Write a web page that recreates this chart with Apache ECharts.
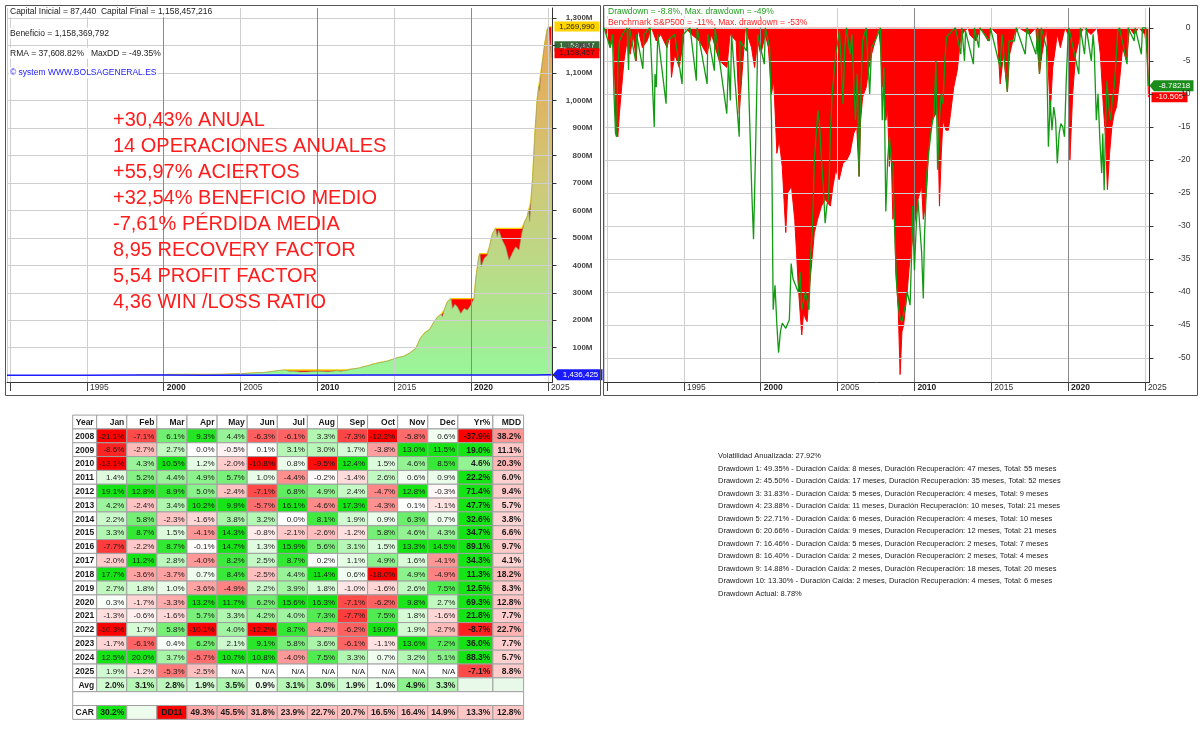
<!DOCTYPE html>
<html><head><meta charset="utf-8">
<script src="https://cdn.jsdelivr.net/npm/echarts@6/dist/echarts.min.js"></script>
<style>html,body{margin:0;padding:0;background:#fff}#c{width:1200px;height:738px}</style>
</head><body><div id="c"></div><script>
// ---------------- DATA ----------------
// Equity curve of the system (millions), [year, value]
const EQUITY = [[1998.2,0.087],[1998.5,0.12],[1999.0,0.3],[1999.5,0.6],[2000.0,1.5],[2000.3,2.6],[2000.8,1.6],[2001.2,1.3],[2002.0,1.6],[2002.7,1.5],[2003.3,2.7],[2004.0,3.5],[2005.0,5.5],[2006.0,8.5],[2006.5,9.5],[2007.0,13],[2007.5,17],[2007.9,19],[2008.15,14],[2008.5,14.5],[2008.9,11.5],[2009.3,11.8],[2009.7,13.5],[2010.0,14.1],[2010.45,13],[2010.7,12.5],[2011.0,14.7],[2011.3,16],[2011.5,14],[2011.9,17.5],[2012.2,22],[2012.5,24],[2012.8,27],[2013.0,30.8],[2013.3,34],[2013.6,40],[2013.8,42],[2014.0,45.5],[2014.3,48],[2014.6,52],[2014.9,58],[2015.0,60],[2015.3,65],[2015.6,68],[2015.8,74],[2016.0,80],[2016.05,76],[2016.1,79],[2016.4,97],[2016.7,134],[2016.85,145],[2017.0,155],[2017.3,166],[2017.6,194],[2017.8,210],[2018.05,222],[2018.14,213],[2018.25,237],[2018.46,267],[2018.7,279],[2018.79,243],[2018.95,258],[2019.11,249],[2019.33,225],[2019.55,243],[2019.76,237],[2019.98,255],[2020.2,280],[2020.3,346],[2020.5,431],[2020.58,443],[2020.65,395],[2020.85,425],[2021.05,437],[2021.2,468],[2021.4,516],[2021.6,535],[2021.7,504],[2021.8,528],[2022.03,492],[2022.25,468],[2022.47,419],[2022.68,444],[2022.9,468],[2023.12,456],[2023.3,516],[2023.4,540],[2023.5,560],[2023.65,577],[2023.75,601],[2023.82,559],[2023.9,638],[2024.0,711],[2024.1,820],[2024.15,875],[2024.2,917],[2024.3,1002],[2024.4,1051],[2024.45,1035],[2024.6,1124],[2024.8,1209],[2024.95,1258],[2025.05,1269.99],[2025.15,1200],[2025.23,1158.457]];
// Benchmark S&P500 buy & hold (millions)
const BENCH = [[1989.8,0.087],[1990.6,0.074],[1992,0.1],[1995,0.11],[1998,0.25],[2000,0.35],[2002.7,0.19],[2007.7,0.37],[2009.1,0.18],[2013.3,0.37],[2018,0.67],[2020.2,0.7],[2021.9,1.1],[2022.7,0.85],[2024,1.15],[2025.05,1.6],[2025.23,1.436]];
// System drawdown (%)
const SYS_DD = [[1989.8,0],[1990.2,-3],[1990.35,-1],[1990.45,-10],[1990.55,-16],[1990.62,-16.5],[1990.7,-6],[1990.8,-2],[1991.0,-1],[1991.3,0],[1991.4,-6.4],[1991.45,0],[1991.86,-5],[1991.92,-1],[1992.33,-6.2],[1992.4,-1],[1992.8,0],[1993.07,-15],[1993.12,-7],[1993.2,-9],[1993.3,-1],[1993.84,-11.5],[1993.9,-2],[1994.4,-1],[1994.88,-8.5],[1994.95,-1],[1995.4,0],[1995.81,-8],[1995.86,0],[1996.51,-8.5],[1996.56,-1],[1996.98,-6.5],[1997.03,0],[1997.79,-13],[1997.9,-5],[1998.02,-11],[1998.1,-1],[1998.6,-16.5],[1998.65,-2],[1999.07,-3.5],[1999.1,0],[1999.42,-25],[1999.53,-32],[1999.65,-20],[1999.77,-6.5],[1999.8,-1],[2000.23,-5.5],[2000.3,0],[2000.58,-3],[2000.7,-14],[2000.81,-42.7],[2000.93,-39],[2001.05,-45],[2001.16,-49.2],[2001.28,-46],[2001.4,-44.7],[2001.63,-45.5],[2001.86,-44.2],[2001.98,-35.7],[2002.1,-38],[2002.21,-37.7],[2002.44,-40],[2002.56,-37],[2002.67,-42.7],[2002.91,-40],[2003.14,-42.7],[2003.26,-34],[2003.37,-30],[2003.49,-20],[2003.72,-12.5],[2003.84,-15],[2003.95,-20],[2004.07,-24],[2004.19,-29.6],[2004.3,-27],[2004.42,-25.6],[2004.53,-16],[2004.65,-10],[2004.88,-4],[2005.12,-0.5],[2005.23,-5],[2005.35,-11.5],[2005.47,-3],[2005.58,0],[2005.81,-4],[2005.93,-1],[2006.16,-14],[2006.28,-7],[2006.4,-22.5],[2006.51,-10],[2006.63,-2],[2006.86,0],[2007.09,-10],[2007.21,-3],[2007.44,-2],[2007.79,0],[2007.91,-14],[2008.02,-6],[2008.14,-27.8],[2008.26,-20],[2008.37,-16.5],[2008.49,-20],[2008.6,-21],[2008.72,-31],[2008.84,-38.7],[2008.95,-42],[2009.07,-44],[2009.19,-44.5],[2009.3,-44.2],[2009.42,-42],[2009.53,-40],[2009.72,-42],[2009.81,-35],[2009.88,-27],[2010.0,-36.7],[2010.12,-30],[2010.23,-26],[2010.35,-30],[2010.47,-34],[2010.58,-41],[2010.65,-32],[2010.7,-29],[2010.81,-22],[2010.93,-19],[2011.12,-15],[2011.28,-13],[2011.4,-5],[2011.51,-21.5],[2011.63,-14],[2011.74,-10],[2011.86,-11.5],[2011.98,-5],[2012.09,-1.4],[2012.44,-0.5],[2012.67,0],[2013.02,-4],[2013.09,0],[2013.26,-5],[2013.33,-0.5],[2013.84,-5.5],[2013.91,0],[2014.19,-3],[2014.26,0],[2014.88,-2],[2014.95,0],[2015.58,-6],[2015.7,-1],[2016.05,-9.7],[2016.16,-2],[2016.51,-2],[2016.63,0],[2017.21,-4],[2017.33,0],[2017.91,-4],[2018.02,0],[2018.14,-7],[2018.26,0],[2018.6,-3],[2018.72,-18],[2018.84,-11],[2018.95,-15.5],[2019.07,-12],[2019.19,-14],[2019.3,-20.5],[2019.42,-16],[2019.53,-14.5],[2019.65,-15],[2019.77,-16.5],[2019.88,-8],[2020.0,-1.4],[2020.05,0],[2020.7,-7],[2020.8,0],[2021.07,-4],[2021.19,0],[2021.51,-5],[2021.63,-1],[2021.7,-3],[2021.84,-14],[2021.95,-10],[2022.07,-17],[2022.19,-22],[2022.26,-16],[2022.35,-24.6],[2022.44,-15],[2022.53,-8],[2022.65,-12],[2022.77,-14],[2022.88,-11],[2023.0,-9],[2023.12,-5],[2023.23,-0.5],[2023.35,0],[2023.84,-5.5],[2023.91,0],[2024.3,-2],[2024.37,0],[2024.77,-4],[2024.84,0],[2025.05,0],[2025.12,-3],[2025.23,-8.78218]];
// Benchmark S&P500 drawdown (%)
const SPX_DD = [[1989.8,0],[1990.0,-1],[1990.2,-3],[1990.4,-1],[1990.5,-8],[1990.58,-15.5],[1990.7,-16.5],[1990.8,-13],[1990.95,-9],[1991.1,-5],[1991.3,-2],[1991.5,-4],[1991.7,-1],[1991.9,-5],[1992.0,0],[1992.3,-3],[1992.6,-2],[1992.9,0],[1993.2,-2],[1993.5,-1],[1993.9,-3],[1994.1,-1],[1994.19,-7.5],[1994.4,-4],[1994.7,-6],[1994.9,-3],[1995.1,0],[1995.5,-1],[1996.0,-2],[1996.5,-4],[1996.8,-1],[1997.3,-5],[1997.8,-6],[1998.0,-1],[1998.4,-2],[1998.6,-13],[1998.75,-8],[1999.0,0],[1999.4,-3],[1999.6,-6],[1999.8,-2],[2000.0,-4],[2000.3,-1],[2000.5,-3],[2000.7,-10],[2000.85,-8],[2001.05,-19],[2001.2,-17],[2001.4,-21],[2001.63,-31],[2001.75,-25],[2001.86,-25],[2002.0,-24],[2002.21,-29],[2002.33,-34],[2002.44,-39],[2002.56,-43],[2002.67,-46.5],[2002.79,-43],[2002.9,-44],[2003.02,-44.5],[2003.15,-40],[2003.26,-37],[2003.49,-31],[2003.7,-29],[2003.95,-27],[2004.2,-26],[2004.53,-27],[2004.7,-24],[2004.88,-21.5],[2005.1,-23],[2005.35,-20.5],[2005.6,-20],[2005.81,-19],[2006.05,-16],[2006.25,-15],[2006.4,-22.5],[2006.5,-14],[2006.63,-10.5],[2006.86,-9],[2007.05,-6],[2007.21,-4],[2007.45,-2],[2007.67,0],[2007.8,-3],[2007.91,-9],[2008.0,-5],[2008.14,-14],[2008.25,-12],[2008.37,-21],[2008.48,-18],[2008.6,-29],[2008.7,-27],[2008.79,-37],[2008.88,-40],[2008.95,-42.7],[2009.07,-52.5],[2009.19,-46],[2009.3,-45],[2009.53,-40],[2009.65,-36.5],[2009.77,-34],[2010.0,-30],[2010.23,-26],[2010.47,-24],[2010.58,-29],[2010.7,-27],[2010.81,-24],[2010.93,-18],[2011.16,-14],[2011.4,-13],[2011.5,-11],[2011.63,-27],[2011.75,-19],[2011.86,-14],[2012.05,-15.5],[2012.21,-15.5],[2012.35,-13],[2012.56,-9],[2012.79,-6.4],[2013.02,-1.4],[2013.26,-0.5],[2013.5,0],[2013.6,-1],[2014.0,-2],[2014.3,0],[2014.8,-2],[2015.0,0],[2015.4,-1],[2015.58,-8.5],[2015.8,-4],[2016.05,-9.7],[2016.2,-4],[2016.5,-1],[2016.8,0],[2017.5,-1],[2017.9,0],[2018.14,-7],[2018.3,-4],[2018.6,0],[2018.84,-13],[2019.0,-6],[2019.3,-1],[2019.5,-3],[2019.8,0],[2020.0,-1],[2020.12,-20],[2020.3,-10],[2020.5,-4],[2020.8,-1],[2021.0,0],[2021.5,-1],[2021.9,0],[2022.1,-4],[2022.3,-12],[2022.45,-17],[2022.56,-24.5],[2022.7,-19],[2022.85,-15],[2023.0,-13],[2023.15,-12],[2023.35,-8],[2023.55,-3],[2023.8,-5],[2024.0,0],[2024.3,-1],[2024.6,0],[2025.0,-1],[2025.15,-4],[2025.23,-10.505]];

// Monthly table
const MONTHS = ['Jan','Feb','Mar','Apr','May','Jun','Jul','Aug','Sep','Oct','Nov','Dec'];
const YEARS = [2008,2009,2010,2011,2012,2013,2014,2015,2016,2017,2018,2019,2020,2021,2022,2023,2024,2025];
const M2008 = [-21.1,-7.1,6.1,9.3,4.4,-6.3,-6.1,3.3,-7.3,-12.3,-5.8,0.6];
const M2009 = [-8.6,-2.7,2.7,0.0,-0.5,0.1,3.1,3.0,1.7,-3.8,13.0,11.5];
const M2010 = [-13.1,4.3,10.5,1.2,-2.0,-10.8,0.8,-9.5,12.4,1.5,4.6,8.5];
const M2011 = [1.4,5.2,4.4,4.9,5.7,1.0,-4.4,-0.2,-1.4,2.6,0.6,0.9];
const M2012 = [19.1,12.8,8.9,5.0,-2.4,-7.1,6.8,4.9,2.4,-4.7,12.8,-0.3];
const M2013 = [4.2,-2.4,3.4,10.2,9.9,-5.7,16.1,-4.6,17.3,-4.3,0.1,-1.1];
const M2014 = [2.2,5.8,-2.3,-1.6,3.8,3.2,0.0,8.1,1.9,0.9,6.3,0.7];
const M2015 = [3.3,8.7,1.5,-4.1,14.3,-0.8,-2.1,-2.6,-1.2,5.8,4.6,4.3];
const M2016 = [-7.7,-2.2,8.7,-0.1,14.7,1.3,15.9,5.6,3.1,1.5,13.3,14.5];
const M2017 = [-2.0,11.2,2.8,-4.0,8.2,2.5,8.7,0.2,1.1,4.9,1.6,-4.1];
const M2018 = [17.7,-3.6,-3.7,0.7,8.4,-2.5,4.4,11.4,0.6,-18.0,4.9,-4.9];
const M2019 = [2.7,1.8,1.0,-3.6,-4.9,2.2,3.9,1.8,-1.0,-1.6,2.6,7.5];
const M2020 = [0.3,-1.7,-3.3,13.2,11.7,6.2,15.6,16.3,-7.1,-6.2,9.8,2.7];
const M2021 = [-1.3,-0.6,-1.6,5.7,3.3,4.2,4.0,7.3,-7.7,7.5,1.8,-1.6];
const M2022 = [-10.3,1.7,5.8,-10.1,4.0,-12.2,8.7,-4.2,-6.2,19.0,1.9,-2.7];
const M2023 = [-1.7,-6.1,0.4,6.2,2.1,9.1,5.8,3.6,-6.1,-1.1,13.6,7.2];
const M2024 = [12.5,20.0,3.7,-5.7,10.7,10.8,-4.0,7.5,3.3,0.7,3.2,5.1];
const M2025 = [1.9,-1.2,-5.3,-2.5,null,null,null,null,null,null,null,null];
const MONTHLY = [M2008,M2009,M2010,M2011,M2012,M2013,M2014,M2015,M2016,M2017,M2018,M2019,M2020,M2021,M2022,M2023,M2024,M2025];
const YEAR_PCT = [-37.9,19.0,4.6,22.2,71.4,47.7,32.6,34.7,89.1,34.3,11.3,12.5,69.3,21.8,-8.7,36.0,88.3,-7.1];
const YEAR_MDD = [38.2,11.1,20.3,6.0,9.4,5.7,3.8,6.6,9.7,4.1,18.2,8.3,12.8,7.7,22.7,7.7,5.7,8.8];
const MONTH_AVG = [2.0,3.1,2.8,1.9,3.5,0.9,3.1,3.0,1.9,1.0,4.9,3.3];
const CAR = 30.2;
const TOP_DD = [49.3,45.5,31.8,23.9,22.7,20.7,16.5,16.4,14.9,13.3,12.8];

const STATS_LINES = [
 'Volatilidad Anualizada: 27.92%',
 'Drawdown 1: 49.35% - Duración Caída: 8 meses, Duración Recuperación: 47 meses, Total: 55 meses',
 'Drawdown 2: 45.50% - Duración Caída: 17 meses, Duración Recuperación: 35 meses, Total: 52 meses',
 'Drawdown 3: 31.83% - Duración Caída: 5 meses, Duración Recuperación: 4 meses, Total: 9 meses',
 'Drawdown 4: 23.88% - Duración Caída: 11 meses, Duración Recuperación: 10 meses, Total: 21 meses',
 'Drawdown 5: 22.71% - Duración Caída: 6 meses, Duración Recuperación: 4 meses, Total: 10 meses',
 'Drawdown 6: 20.66% - Duración Caída: 9 meses, Duración Recuperación: 12 meses, Total: 21 meses',
 'Drawdown 7: 16.46% - Duración Caída: 5 meses, Duración Recuperación: 2 meses, Total: 7 meses',
 'Drawdown 8: 16.40% - Duración Caída: 2 meses, Duración Recuperación: 2 meses, Total: 4 meses',
 'Drawdown 9: 14.88% - Duración Caída: 2 meses, Duración Recuperación: 18 meses, Total: 20 meses',
 'Drawdown 10: 13.30% - Duración Caída: 2 meses, Duración Recuperación: 4 meses, Total: 6 meses',
 'Drawdown Actual: 8.78%'
];
const BIG_LINES = ['+30,43% ANUAL','14 OPERACIONES ANUALES','+55,97% ACIERTOS','+32,54% BENEFICIO MEDIO','-7,61% PÉRDIDA MEDIA','8,95 RECOVERY FACTOR','5,54 PROFIT FACTOR','4,36 WIN /LOSS RATIO'];
const HEADER_LEFT = ['Capital Inicial = 87,440  Capital Final = 1,158,457,216','Beneficio = 1,158,369,792','RMA = 37,608.82%   MaxDD = -49.35%','© system WWW.BOLSAGENERAL.ES'];
const HEADER_RIGHT = ['Drawdown = -8.8%, Max. drawdown = -49%','Benchmark S&P500 = -11%, Max. drawdown = -53%'];

// ---------------- LAYOUT / STYLE ----------------
const FONT = '"Liberation Sans", Arial, sans-serif';
const COL_W = [24,30.1,30.1,30.1,30.1,30.1,30.1,30.1,30.1,30.1,30.1,30.1,30.1,35,30.7];
const COL_START = [0]; COL_W.forEach((w,i)=>COL_START.push(COL_START[i]+w));
const TABLE_W = COL_START[COL_START.length-1];

// running peak of equity (high-water mark)
let _mx = -Infinity;
const PEAK = EQUITY.map(([x,y]) => { _mx = Math.max(_mx,y); return [x,_mx]; });

function mix(rgb,t){ t=Math.max(0,Math.min(1,t)); return 'rgb('+rgb.map(c=>Math.round(255+(c-255)*t)).join(',')+')'; }
const GREEN_FULL=[20,228,20], RED_FULL=[255,0,0];
function pnlColor(v){ return v>=0 ? mix(GREEN_FULL, v/10) : mix(RED_FULL, -v/10); }
function fmt(v){ return v.toFixed(1)+'%'; }

const CELLS = [];
function addCell(c,r,text,fill,bold,align,span){ CELLS.push({c,r,text,fill,bold:!!bold,align:align||'right',span:span||1}); }
addCell(0,0,'Year','#fff',true,'center');
MONTHS.forEach((m,i)=>addCell(i+1,0,m,'#fff',true,'right'));
addCell(13,0,'Yr%','#fff',true,'right');
addCell(14,0,'MDD','#fff',true,'right');
YEARS.forEach((y,k)=>{
  const r=k+1;
  addCell(0,r,String(y),'#fff',true,'center');
  MONTHLY[k].forEach((v,i)=>{
    if(v==null) addCell(i+1,r,'N/A','#fff',false,'right');
    else addCell(i+1,r,fmt(v),pnlColor(v),false,'right');
  });
  addCell(13,r,fmt(YEAR_PCT[k]),pnlColor(YEAR_PCT[k]),true,'right');
  addCell(14,r,fmt(YEAR_MDD[k]),mix(RED_FULL,0.14+YEAR_MDD[k]/140),true,'right');
});
addCell(0,19,'Avg','#fff',true,'right');
MONTH_AVG.forEach((v,i)=>addCell(i+1,19,fmt(v),pnlColor(v),true,'right'));
addCell(13,19,'','#e9f9e9',false); addCell(14,19,'','#e9f9e9',false);
addCell(0,20,'','#fff',false,'right',15);
addCell(0,21,'CAR','#fff',true,'center');
addCell(1,21,fmt(CAR),pnlColor(CAR),true,'right');
addCell(2,21,'','#eefcee',false);
addCell(3,21,'DD11','#ff0000',true,'center');
TOP_DD.forEach((v,i)=>addCell(4+i,21,fmt(v),mix(RED_FULL,0.18+v/300),true,'right'));

const gridLineColor = '#cfcfcf';
function xAxisCfg(gi){
  return { type:'value', gridIndex:gi, min:1989.8, max:2025.3, splitNumber:7, z:5,
    axisLine:{show:true,onZero:false,lineStyle:{color:'#333',width:1}},
    axisTick:{show:true,length:9,lineStyle:{color:'#444'}},
    axisLabel:{show:true,showMinLabel:false,showMaxLabel:false,align:'left',margin:1,padding:[0,0,0,3],
      fontSize:8.5,color:'#333',fontFamily:FONT,
      formatter:v=>(v%5===0 && v>1990) ? (v%10===0 ? '{b|'+v+'}' : String(v)) : '',
      rich:{b:{fontWeight:'bold',fontSize:8.5,color:'#222',fontFamily:FONT}}},
    splitLine:{show:true,lineStyle:{color:gridLineColor,width:1}} };
}
const darkLines = { silent:true, symbol:['none','none'], label:{show:false},
  lineStyle:{color:'#8a8a8a',width:1,type:'solid'}, data:[{xAxis:2000},{xAxis:2010},{xAxis:2020}] };

function tag(coordY, text, bg, fg, arrow, w, dy){
  return { coord:[2025.3, coordY], value:text,
    symbol: arrow ? 'path://M0,6L6,0L60,0L60,12L6,12Z' : 'rect',
    symbolSize:[w, arrow?11:10], symbolKeepAspect:false, symbolOffset:[w/2+(arrow?0:2), dy||0],
    itemStyle:{color:bg},
    label:{show:true, position:'inside', formatter:text, color:fg, fontSize:8, fontFamily:FONT, offset:[arrow?3:0,0]} };
}

const graphics = [];
graphics.push({type:'rect',z:100,silent:true,shape:{x:5.5,y:5.5,width:595,height:390},style:{fill:'transparent',stroke:'#555',lineWidth:1}});
graphics.push({type:'rect',z:100,silent:true,shape:{x:603.5,y:5.5,width:594,height:390},style:{fill:'transparent',stroke:'#555',lineWidth:1}});
const hlY = [11.7,33.3,53.3,72.7];
HEADER_LEFT.forEach((t,i)=>graphics.push({type:'text',z:101,silent:true,x:9,y:hlY[i],
  style:{text:t,fontSize:8.5,fontFamily:FONT,fill:i===3?'#1a1aff':'#222',verticalAlign:'middle',backgroundColor:'#fff',padding:[1,1]}}));
const hrY = [11.7,22.7]; const hrC = ['#22a022','#ff2020'];
HEADER_RIGHT.forEach((t,i)=>graphics.push({type:'text',z:101,silent:true,x:607,y:hrY[i],
  style:{text:t,fontSize:8.5,fontFamily:FONT,fill:hrC[i],verticalAlign:'middle',backgroundColor:'#fff',padding:[0,1]}}));
BIG_LINES.forEach((t,i)=>graphics.push({type:'text',z:101,silent:true,x:113,y:120+26*i,
  style:{text:t,fontSize:20,fontFamily:FONT,fill:'#ff1c1c',verticalAlign:'middle'}}));
STATS_LINES.forEach((t,i)=>graphics.push({type:'text',z:101,silent:true,x:718,y:456+12.5*i,
  style:{text:t,fontSize:7.5,fontFamily:FONT,fill:'#222',verticalAlign:'middle'}}));

const chart = echarts.init(document.getElementById('c'), null, {renderer:'canvas'});
chart.setOption({
  animation:false,
  backgroundColor:'#fff',
  textStyle:{fontFamily:FONT},
  grid:[
    {left:7,top:8,width:545.5,height:374,outerBoundsMode:'none',containLabel:false},
    {left:604,top:8,width:545.5,height:374,outerBoundsMode:'none',containLabel:false},
    {left:72.7,top:415.1,width:TABLE_W,height:22*13.83,outerBoundsMode:'none',containLabel:false}
  ],
  xAxis:[ xAxisCfg(0), xAxisCfg(1),
    {type:'value',gridIndex:2,min:0,max:TABLE_W,show:false} ],
  yAxis:[
    {type:'value',gridIndex:0,position:'right',min:-24.8,max:1337.5,splitNumber:13,z:5,
     axisLine:{show:true,lineStyle:{color:'#333'}},axisTick:{show:true,length:4,lineStyle:{color:'#333'}},
     axisLabel:{showMinLabel:false,showMaxLabel:false,align:'right',margin:40,fontSize:8,fontWeight:'bold',color:'#444',fontFamily:FONT,
       formatter:v=>(v>0 && v<=1300 && v%100===0) ? v.toLocaleString('en-US')+'M' : ''},
     splitLine:{show:true,showMinLine:false,showMaxLine:false,lineStyle:{color:gridLineColor}}},
    {type:'value',gridIndex:1,position:'right',min:-53.63,max:3,splitNumber:11,z:5,
     axisLine:{show:true,lineStyle:{color:'#333'}},axisTick:{show:true,length:4,lineStyle:{color:'#333'}},
     axisLabel:{showMinLabel:false,showMaxLabel:false,align:'right',margin:41,fontSize:8.5,color:'#333',fontFamily:FONT,
       formatter:v=>(v%5===0) ? String(v) : ''},
     splitLine:{show:true,showMinLine:false,showMaxLine:false,lineStyle:{color:gridLineColor}}},
    {type:'value',gridIndex:2,min:-0.5,max:21.5,inverse:true,show:false}
  ],
  series:[
    {name:'peak',type:'line',xAxisIndex:0,yAxisIndex:0,data:PEAK,showSymbol:false,symbol:'none',z:2,
     lineStyle:{color:'#f2d60a',width:1.3},areaStyle:{color:'#ff0000',opacity:1}},
    {name:'equity',type:'line',xAxisIndex:0,yAxisIndex:0,data:EQUITY,showSymbol:false,symbol:'none',z:3,
     lineStyle:{color:'#8f9a74',width:0.6},
     areaStyle:{opacity:1,color:{type:'linear',x:0,y:0,x2:0,y2:1,colorStops:[
       {offset:0,color:'#eca552'},{offset:0.2,color:'#dfb462'},{offset:0.45,color:'#cfc977'},
       {offset:0.62,color:'#c0d583'},{offset:0.78,color:'#b2e28c'},{offset:0.93,color:'#a0ef96'},{offset:1,color:'#98f898'}]}}},
    {name:'benchmark',type:'line',xAxisIndex:0,yAxisIndex:0,data:BENCH,showSymbol:false,symbol:'none',z:10,
     lineStyle:{color:'#1c1cff',width:1.5},
     markLine:darkLines,
     markPoint:{silent:true,data:[
       tag(1269.99,'1,269,990','#ffd400','#222',false,45),
       tag(1158.457,'1,158,457','#356b35','#e8e8e8',false,45,-11),
       tag(1158.457,'1,158,457','#ff0000','#222',false,45,-4),
       tag(1.436,'1,436,425','#1a1aff','#fff',true,50)
     ]}},
    {name:'spx',type:'line',xAxisIndex:1,yAxisIndex:1,data:SPX_DD,showSymbol:false,symbol:'none',z:3,
     lineStyle:{color:'#ff0000',width:1},areaStyle:{color:'#ff0000',opacity:1,origin:'auto'},
     markLine:darkLines},
    {name:'sys',type:'line',xAxisIndex:1,yAxisIndex:1,data:SYS_DD,showSymbol:false,symbol:'none',z:10,
     lineStyle:{color:'#139a13',width:1.3},
     markPoint:{silent:true,data:[
       tag(-8.78218,'-8.78218','#1a8c1a','#fff',true,44),
       tag(-10.505,'-10.505','#ff0000','#fff',false,36)
     ]}},
    {name:'table',type:'custom',xAxisIndex:2,yAxisIndex:2,z:2,
     data:CELLS.map(c=>[COL_START[c.c]+(COL_START[c.c+c.span]-COL_START[c.c])/2, c.r]),
     renderItem:(params,api)=>{
       const cell = CELLS[params.dataIndex];
       const a = api.coord([COL_START[cell.c], cell.r-0.5]);
       const b = api.coord([COL_START[cell.c+cell.span], cell.r+0.5]);
       const x=a[0], y=a[1], w=b[0]-a[0], h=b[1]-a[1];
       const tx = cell.align==='right' ? x+w-2.5 : x+w/2;
       return {type:'group',children:[
         {type:'rect',shape:{x:x,y:y,width:w,height:h},style:{fill:cell.fill,stroke:'#a0a0a0',lineWidth:1}},
         {type:'text',style:{text:cell.text,x:tx,y:y+h/2+0.5,align:cell.align,verticalAlign:'middle',
           fontSize:cell.bold?8.5:8,fontWeight:cell.bold?'bold':'normal',fontFamily:FONT,fill:'#1a1a1a'}}
       ]};
     }}
  ],
  graphic:graphics
});
</script></body></html>
